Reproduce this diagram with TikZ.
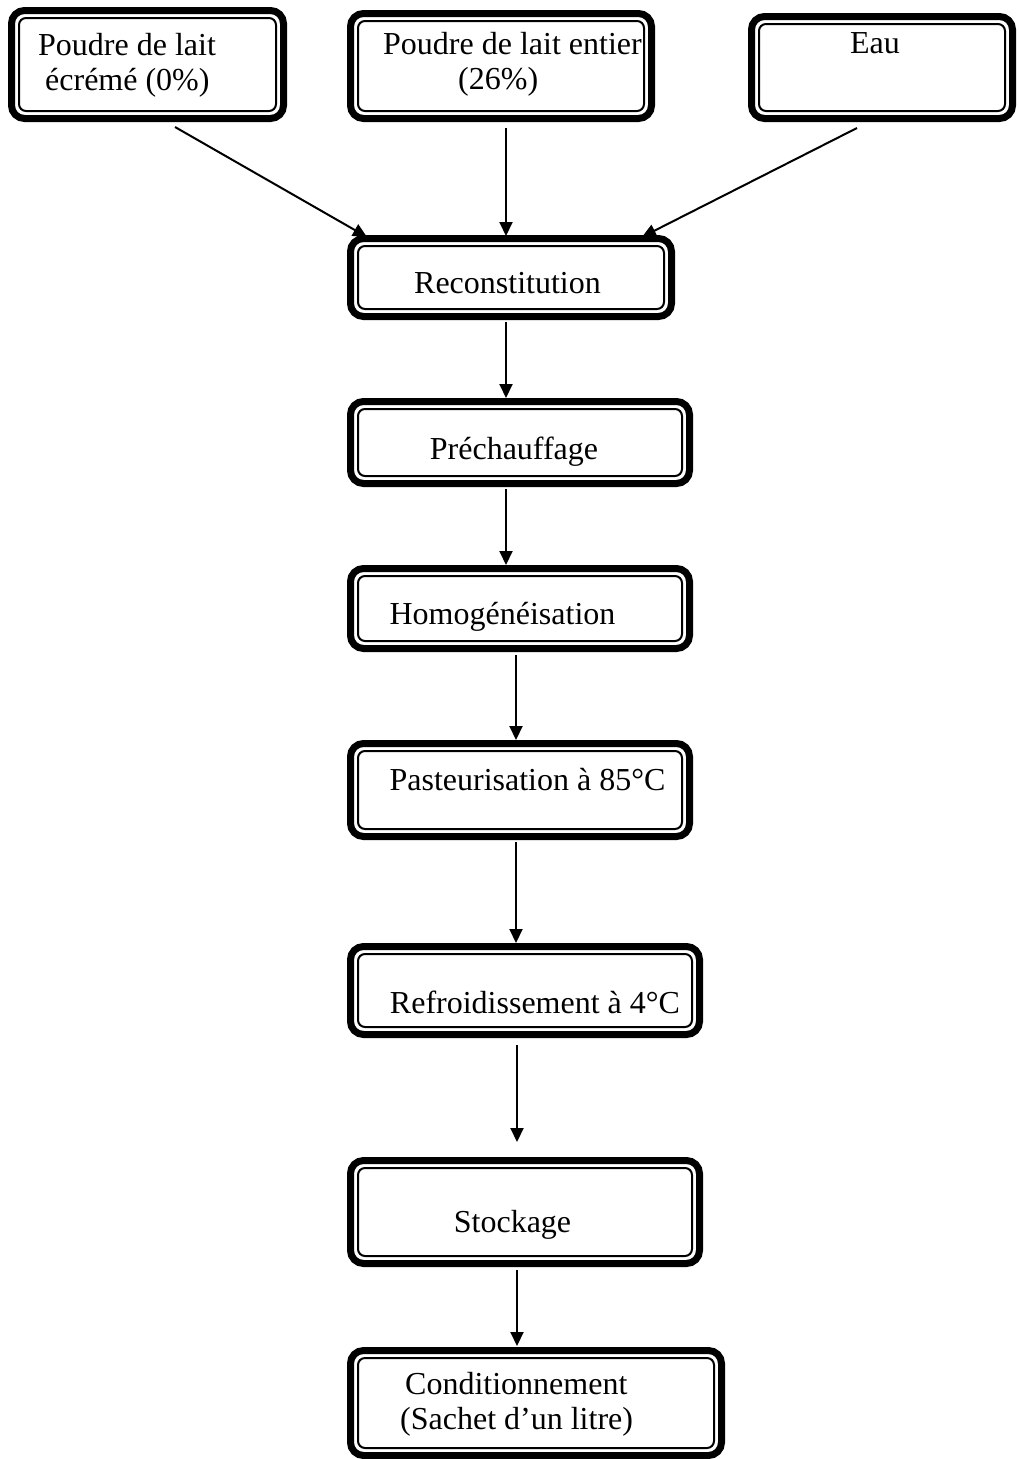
\documentclass[tikz,border=0pt]{standalone}
\usepackage{fontspec}
\setmainfont{Liberation Serif}
\usetikzlibrary{arrows.meta}
\begin{document}
\begin{tikzpicture}[x=1pt,y=-1pt,
  box/.style={draw, line width=2pt, rounded corners=7pt, outer sep=11pt, inner sep=0pt},
  outerframe/.style={line width=7pt, rounded corners=13pt},
  txt/.style={inner sep=0pt, font=\fontsize{32}{35}\selectfont},
  arr/.style={line width=2pt, -{Triangle[length=14pt,width=13pt]}}]
\useasboundingbox (0,0) rectangle (1019,1459);

% boxes (anchors lie on the outer edge of the thick frame)
\node[box, minimum width=257pt, minimum height=93pt] (b1) at (147.5,64.5) {};
\node[box, minimum width=286pt, minimum height=90pt] (b2) at (501,66) {};
\node[box, minimum width=246pt, minimum height=87pt] (b3) at (882,67.5) {};
\node[box, minimum width=306pt, minimum height=63pt] (recon) at (511,277.5) {};
\node[box, minimum width=324pt, minimum height=67pt] (pre) at (520,442.5) {};
\node[box, minimum width=324pt, minimum height=65pt] (homo) at (520,608.5) {};
\node[box, minimum width=324pt, minimum height=78pt] (pas) at (520,790) {};
\node[box, minimum width=334pt, minimum height=73pt] (ref) at (525,990.5) {};
\node[box, minimum width=334pt, minimum height=88pt] (stock) at (525,1212) {};
\node[box, minimum width=356pt, minimum height=90pt] (cond) at (536,1403) {};

\foreach \n in {b1,b2,b3,recon,pre,homo,pas,ref,stock,cond}
  \draw[outerframe] ([shift={(3.5,3.5)}]\n.north west) rectangle ([shift={(-3.5,-3.5)}]\n.south east);

% texts
\node[txt, anchor=west, align=left] (b1t) at (38,65.5) {Poudre de lait\\\hspace*{7pt}écrémé (0\%)};
\node[txt, anchor=west, align=left] (b2t) at (383,64.5) {Poudre de lait entier\\\hspace*{75pt}(26\%)};
\node[txt] (b3t) at (875,43) {Eau};
\node[txt] (recont) at (507.5,283) {Reconstitution};
\node[txt] (pret) at (514,452) {Préchauffage};
\node[txt] (homot) at (502.5,617) {Homogénéisation};
\node[txt] (past) at (527.5,780) {Pasteurisation à 85°C};
\node[txt] (reft) at (535,1002) {Refroidissement à 4°C};
\node[txt] (stockt) at (512.5,1225) {Stockage};
\node[txt, anchor=west, align=left] (condt) at (400,1404.5) {\hspace*{5pt}Conditionnement\\(Sachet d’un litre)};

% connectors
\draw[arr] ([shift={(27.5,5)}]b1.south) -- ([shift={(-144,2)}]recon.north);
\draw[arr] ([shift={(5,6)}]b2.south) -- ([shift={(-5,1)}]recon.north);
\draw[arr] ([shift={(-25,6)}]b3.south) -- ([shift={(131,2)}]recon.north);
\draw[arr] ([shift={(-5,2)}]recon.south) -- ([shift={(-14,0)}]pre.north);
\draw[arr] ([shift={(-14,2)}]pre.south) -- ([shift={(-14,0)}]homo.north);
\draw[arr] ([shift={(-4,3)}]homo.south) -- ([shift={(-4,0)}]pas.north);
\draw[arr] ([shift={(-4,2)}]pas.south) -- ([shift={(-9,0)}]ref.north);
\draw[arr] ([shift={(-8,7)}]ref.south) -- ([shift={(-8,-15)}]stock.north);
\draw[arr] ([shift={(-8,3)}]stock.south) -- ([shift={(-19,-1)}]cond.north);
\end{tikzpicture}
\end{document}
